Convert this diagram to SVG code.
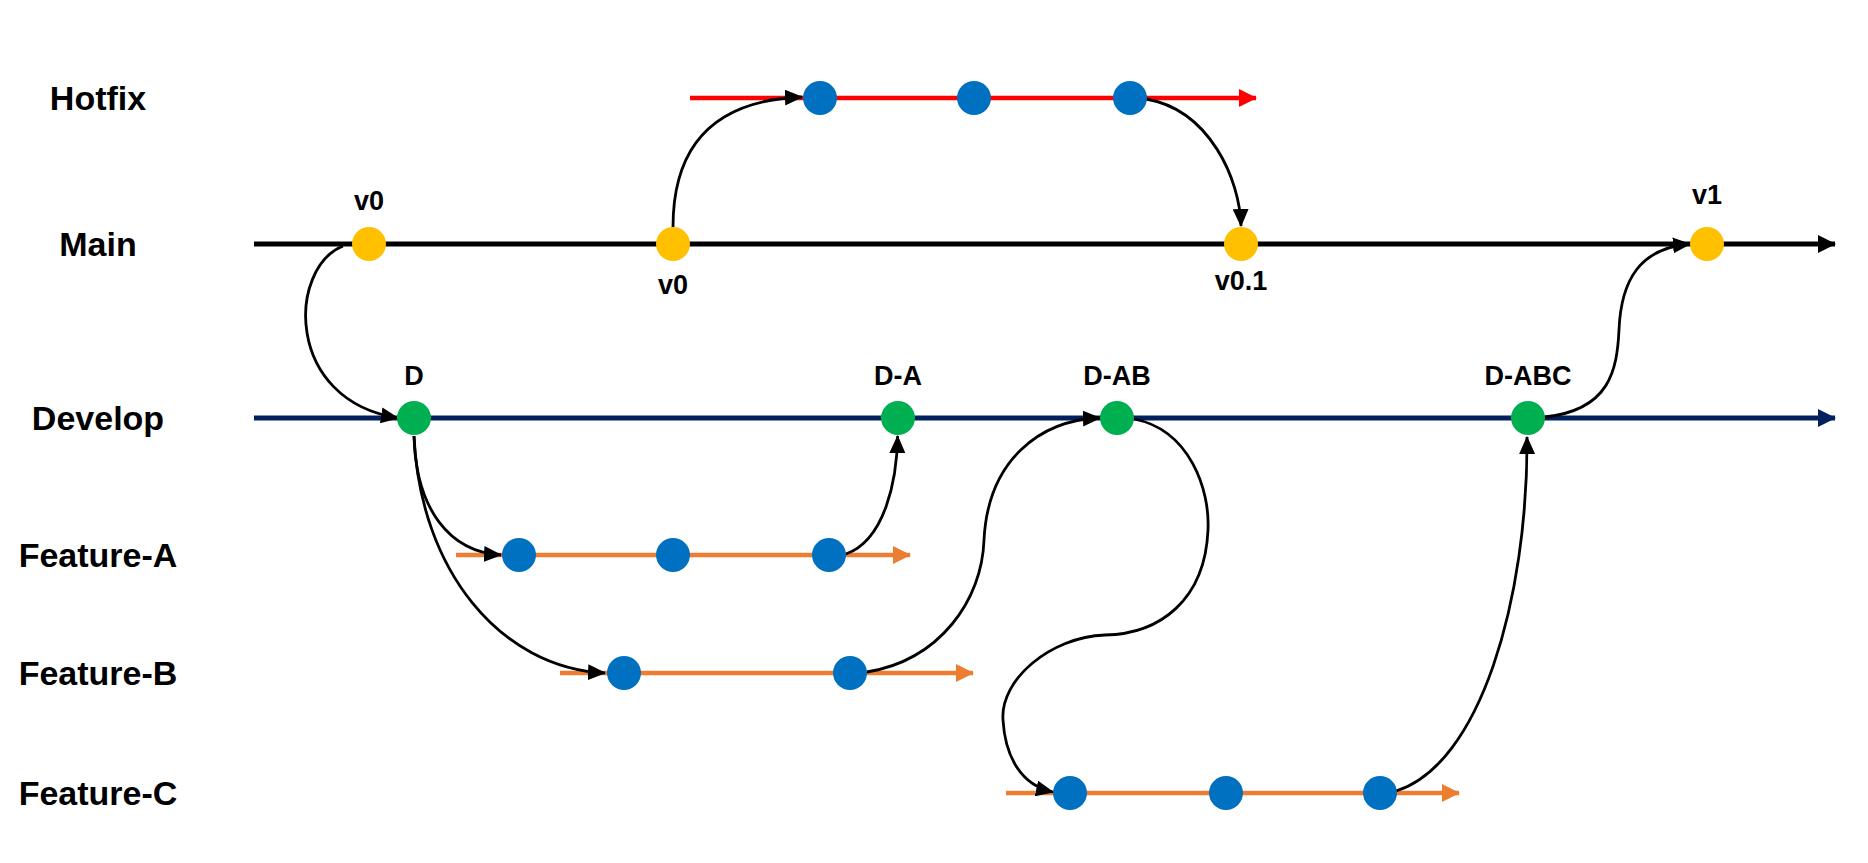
<svg xmlns="http://www.w3.org/2000/svg" width="1868" height="863" viewBox="0 0 1868 863">
<style>
.lane{font-family:"Liberation Sans",Arial,sans-serif;font-weight:bold;font-size:34px;fill:#000;text-anchor:middle}
.tag{font-family:"Liberation Sans",Arial,sans-serif;font-weight:bold;font-size:27px;fill:#000;text-anchor:middle}
.conn{fill:none;stroke:#000;stroke-width:2.8}
.blue{fill:#0070C0}
.yellow{fill:#FFC000}
.green{fill:#00B050}
</style>
<defs>
<marker id="ah" markerUnits="userSpaceOnUse" markerWidth="18" markerHeight="16" refX="17" refY="8" orient="auto"><path d="M0,0 L18,8 L0,16 Z" fill="#000"/></marker>
<marker id="aBlack" markerUnits="userSpaceOnUse" markerWidth="18" markerHeight="18" refX="17" refY="9" orient="auto"><path d="M0,0 L18,9 L0,18 Z" fill="#000"/></marker>
<marker id="aRed" markerUnits="userSpaceOnUse" markerWidth="18" markerHeight="18" refX="17" refY="9" orient="auto"><path d="M0,0 L18,9 L0,18 Z" fill="#FF0000"/></marker>
<marker id="aNavy" markerUnits="userSpaceOnUse" markerWidth="18" markerHeight="18" refX="17" refY="9" orient="auto"><path d="M0,0 L18,9 L0,18 Z" fill="#002060"/></marker>
<marker id="aOrange" markerUnits="userSpaceOnUse" markerWidth="18" markerHeight="18" refX="17" refY="9" orient="auto"><path d="M0,0 L18,9 L0,18 Z" fill="#ED7D31"/></marker>
</defs>
<rect width="1868" height="863" fill="#fff"/>

<g id="labels">
<text class="lane" x="98" y="110">Hotfix</text>
<text class="lane" x="98" y="256">Main</text>
<text class="lane" x="98" y="430">Develop</text>
<text class="lane" x="98" y="567">Feature-A</text>
<text class="lane" x="98" y="685">Feature-B</text>
<text class="lane" x="98" y="805">Feature-C</text>
</g>

<g id="lanes">
<line id="lane-hotfix" x1="690" y1="98" x2="1256" y2="98" stroke="#FF0000" stroke-width="4.5" marker-end="url(#aRed)"/>
<line id="lane-main" x1="254" y1="244" x2="1835" y2="244" stroke="#000" stroke-width="5" marker-end="url(#aBlack)"/>
<line id="lane-develop" x1="254" y1="418" x2="1835" y2="418" stroke="#002060" stroke-width="5" marker-end="url(#aNavy)"/>
<line id="lane-feature-a" x1="456" y1="555" x2="910" y2="555" stroke="#ED7D31" stroke-width="4.5" marker-end="url(#aOrange)"/>
<line id="lane-feature-b" x1="560" y1="673" x2="973" y2="673" stroke="#ED7D31" stroke-width="4.5" marker-end="url(#aOrange)"/>
<line id="lane-feature-c" x1="1006" y1="793" x2="1459" y2="793" stroke="#ED7D31" stroke-width="4.5" marker-end="url(#aOrange)"/>
</g>

<g id="connectors">
<path class="conn" d="M 343 246 C 288 268, 284 400, 398 418" marker-end="url(#ah)"/>
<path class="conn" d="M 673 227 C 673 140, 720 100, 802 97" marker-end="url(#ah)"/>
<path class="conn" d="M 1146 99 C 1210 110, 1240 180, 1241 226" marker-end="url(#ah)"/>
<path class="conn" d="M 1545 417 C 1610 410, 1617 370, 1619 330 C 1621 280, 1640 248, 1690 244" marker-end="url(#ah)"/>
<path class="conn" d="M 414 436 C 416 510, 450 552, 501 555" marker-end="url(#ah)"/>
<path class="conn" d="M 414 436 C 420 570, 500 668, 605 673" marker-end="url(#ah)"/>
<path class="conn" d="M 846 554 C 885 540, 897 480, 897.6 436" marker-end="url(#ah)"/>
<path class="conn" d="M 867 672 C 940 660, 982 600, 984 540 C 988 460, 1040 420, 1100 418" marker-end="url(#ah)"/>
<path class="conn" d="M 1134 419 C 1190 430, 1210 490, 1208 530 C 1205 600, 1160 634, 1105 635 C 1050 637, 1000 680, 1003 720 C 1005 755, 1020 785, 1053 792" marker-end="url(#ah)"/>
<path class="conn" d="M 1396 791 C 1480 765, 1528 600, 1527 437" marker-end="url(#ah)"/>
</g>

<g id="hotfix-1"><circle class="blue" cx="820" cy="98" r="17"/></g>
<g id="hotfix-2"><circle class="blue" cx="974" cy="98" r="17"/></g>
<g id="hotfix-3"><circle class="blue" cx="1130" cy="98" r="17"/></g>

<g id="main-v0-a"><circle class="yellow" cx="369" cy="244" r="17"/><text class="tag" x="369" y="210">v0</text></g>
<g id="main-v0-b"><circle class="yellow" cx="673" cy="244" r="17"/><text class="tag" x="673" y="294">v0</text></g>
<g id="main-v0-1"><circle class="yellow" cx="1241" cy="244" r="17"/><text class="tag" x="1241" y="290">v0.1</text></g>
<g id="main-v1"><circle class="yellow" cx="1707" cy="244" r="17"/><text class="tag" x="1707" y="204">v1</text></g>

<g id="dev-D"><circle class="green" cx="414" cy="418" r="17"/><text class="tag" x="414" y="385">D</text></g>
<g id="dev-DA"><circle class="green" cx="898" cy="418" r="17"/><text class="tag" x="898" y="385">D-A</text></g>
<g id="dev-DAB"><circle class="green" cx="1117" cy="418" r="17"/><text class="tag" x="1117" y="385">D-AB</text></g>
<g id="dev-DABC"><circle class="green" cx="1528" cy="418" r="17"/><text class="tag" x="1528" y="385">D-ABC</text></g>

<g id="fa-1"><circle class="blue" cx="519" cy="555" r="17"/></g>
<g id="fa-2"><circle class="blue" cx="673" cy="555" r="17"/></g>
<g id="fa-3"><circle class="blue" cx="829" cy="555" r="17"/></g>

<g id="fb-1"><circle class="blue" cx="624" cy="673" r="17"/></g>
<g id="fb-2"><circle class="blue" cx="850" cy="673" r="17"/></g>

<g id="fc-1"><circle class="blue" cx="1070" cy="793" r="17"/></g>
<g id="fc-2"><circle class="blue" cx="1226" cy="793" r="17"/></g>
<g id="fc-3"><circle class="blue" cx="1380" cy="793" r="17"/></g>
</svg>
